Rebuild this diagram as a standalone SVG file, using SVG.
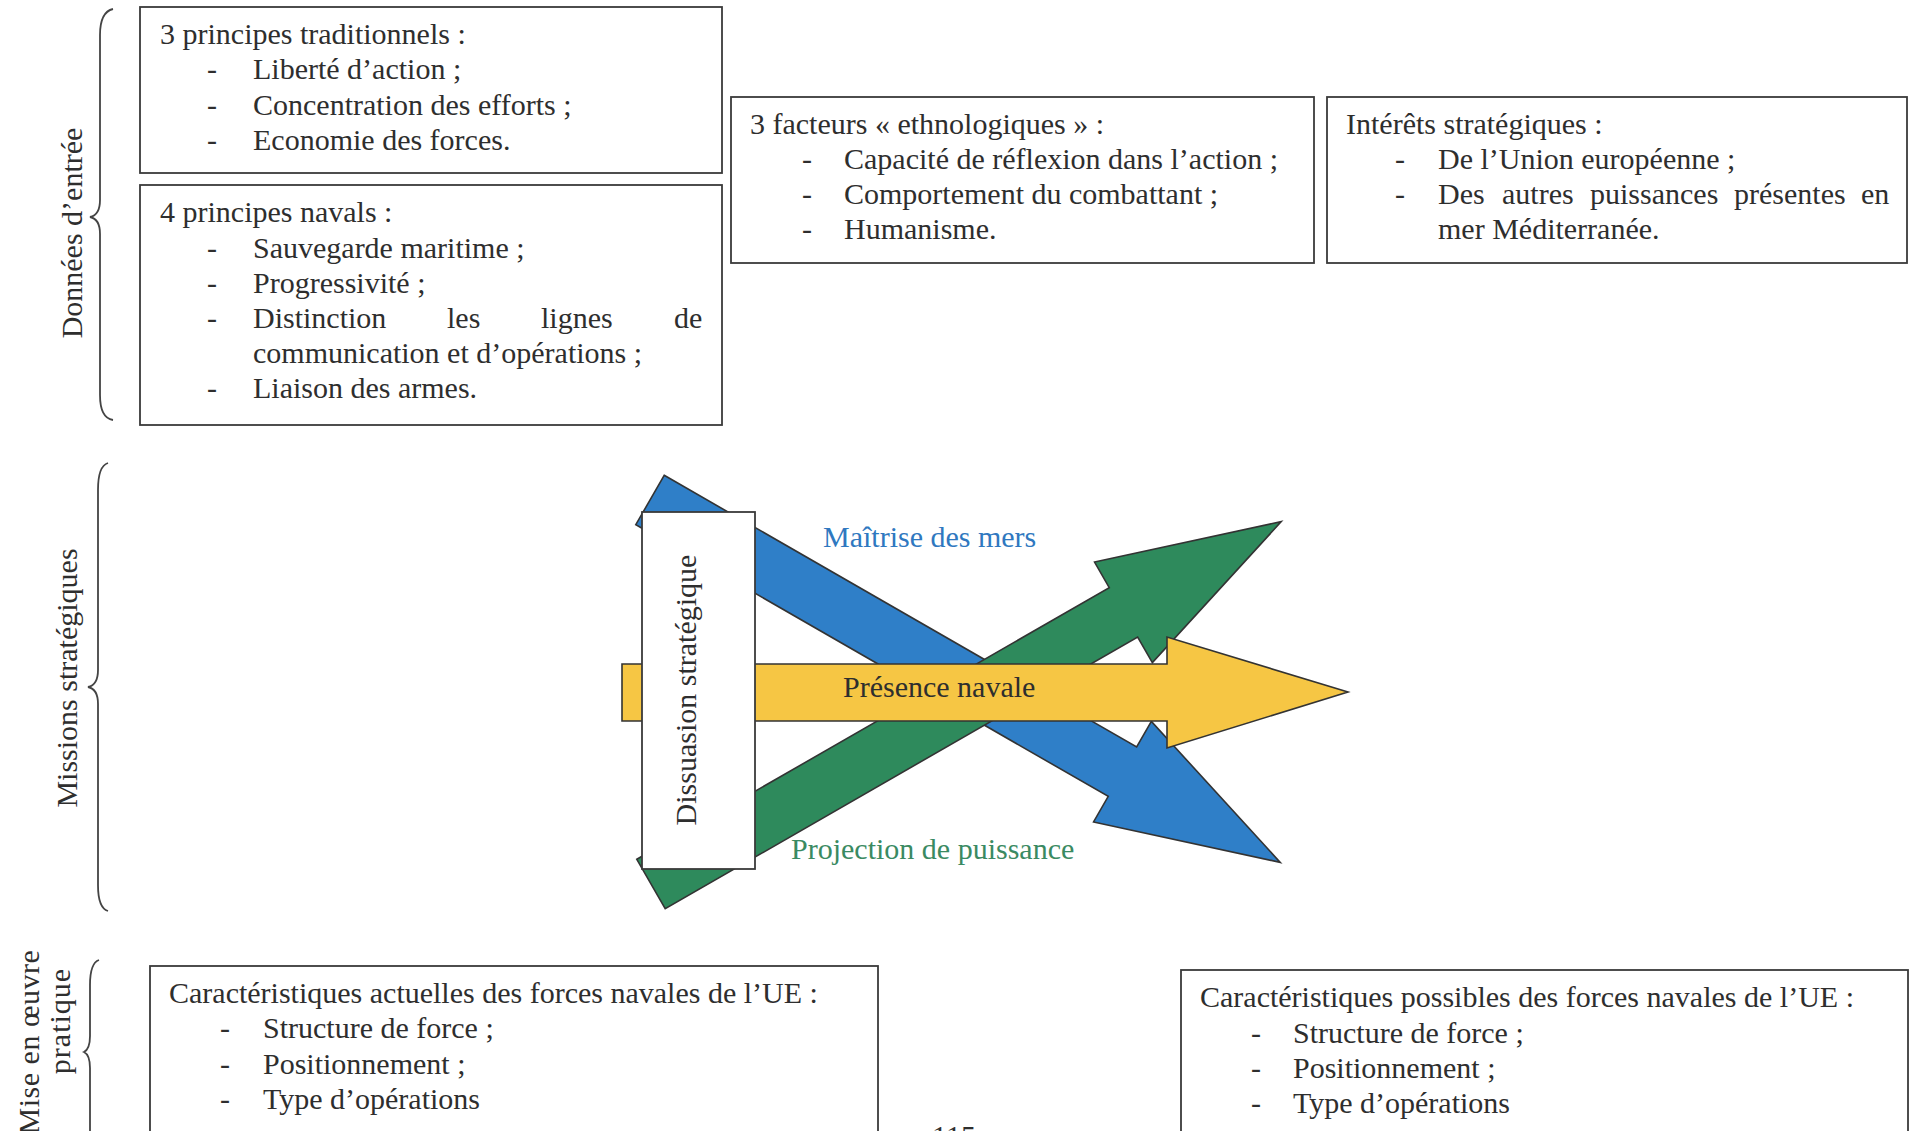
<svg xmlns="http://www.w3.org/2000/svg" width="1917" height="1131" viewBox="0 0 1917 1131">
<style>
text{font-family:"Liberation Serif","Times New Roman",serif;font-size:30px;fill:#2e2e2e}
.box{fill:#fff;stroke:#3a3a3a;stroke-width:1.8}
.brace{fill:none;stroke:#444;stroke-width:1.8}
.arr{stroke:#333;stroke-width:1.6;stroke-linejoin:miter}
.blue{fill:#2f7fc8}
.green{fill:#2e8a5c}
.yellow{fill:#f6c644}
</style>
<defs>
<path id="diag" d="M0,-28.5 L545,-28.5 L545,-58 L727,0 L545,58 L545,28.5 L0,28.5 Z"/>
</defs>
<rect width="1917" height="1131" fill="#fff"/>

<g id="brace-donnees">
<path class="brace" d="M113,9 Q100,12 100,35 L100,200 Q100,215 90,217 Q100,219 100,234 L100,395 Q100,418 113,420"/>
<text transform="translate(82,233) rotate(-90)" text-anchor="middle">Données d’entrée</text>
</g>
<g id="brace-missions">
<path class="brace" d="M108,463 Q98,466 98,490 L98,670 Q98,685 88,687 Q98,689 98,704 L98,885 Q98,908 108,911"/>
<text transform="translate(77,678) rotate(-90)" text-anchor="middle">Missions stratégiques</text>
</g>
<g id="brace-mise">
<path class="brace" d="M99,960 Q90,963 90,985 L90,1036 Q90,1049 84,1052 Q90,1055 90,1068 L90,1131"/>
<text transform="translate(39,1042) rotate(-90)" text-anchor="middle" letter-spacing="0.5">Mise en œuvre</text>
<text transform="translate(70,1021) rotate(-90)" text-anchor="middle" letter-spacing="1">pratique</text>
</g>

<g id="box-traditionnels">
<rect class="box" x="140" y="7" width="582" height="166"/>
<text x="160" y="44">3 principes traditionnels :</text>
<text x="207" y="79">-</text><text x="253" y="79">Liberté d’action ;</text>
<text x="207" y="115">-</text><text x="253" y="115">Concentration des efforts ;</text>
<text x="207" y="150">-</text><text x="253" y="150">Economie des forces.</text>
</g>

<g id="box-navals">
<rect class="box" x="140" y="185" width="582" height="240"/>
<text x="160" y="222">4 principes navals :</text>
<text x="207" y="258">-</text><text x="253" y="258">Sauvegarde maritime ;</text>
<text x="207" y="293">-</text><text x="253" y="293">Progressivité ;</text>
<text x="207" y="328">-</text><text x="253" y="328">Distinction</text><text x="447" y="328">les</text><text x="541" y="328">lignes</text><text x="674" y="328">de</text>
<text x="253" y="363">communication et d’opérations ;</text>
<text x="207" y="398">-</text><text x="253" y="398">Liaison des armes.</text>
</g>

<g id="box-ethnologiques">
<rect class="box" x="731" y="97" width="583" height="166"/>
<text x="750" y="134">3 facteurs « ethnologiques » :</text>
<text x="802" y="169">-</text><text x="844" y="169">Capacité de réflexion dans l’action ;</text>
<text x="802" y="204">-</text><text x="844" y="204">Comportement du combattant ;</text>
<text x="802" y="239">-</text><text x="844" y="239">Humanisme.</text>
</g>

<g id="box-interets">
<rect class="box" x="1327" y="97" width="580" height="166"/>
<text x="1346" y="134">Intérêts stratégiques :</text>
<text x="1395" y="169">-</text><text x="1438" y="169">De l’Union européenne ;</text>
<text x="1395" y="204">-</text><text x="1438" y="204">Des</text><text x="1502" y="204">autres</text><text x="1590" y="204">puissances</text><text x="1734" y="204">présentes</text><text x="1861" y="204">en</text>
<text x="1438" y="239">mer Méditerranée.</text>
</g>

<g id="arrows">
<use href="#diag" class="arr blue" transform="translate(650,500) rotate(29.9)"/>
<use href="#diag" class="arr green" transform="translate(651,884) rotate(-29.9)"/>
<path class="arr yellow" d="M622,664 L1167,664 L1167,637 L1348,692 L1167,748 L1167,721 L622,721 Z"/>
</g>

<g id="node-maitrise">
<text x="823" y="547" style="fill:#2f78c0">Maîtrise des mers</text>
</g>
<g id="node-projection">
<text x="791" y="859" style="fill:#3a8a62">Projection de puissance</text>
</g>
<g id="node-presence">
<text x="843" y="697">Présence navale</text>
</g>
<g id="node-dissuasion">
<rect class="box" x="642" y="512" width="113" height="357"/>
<text transform="translate(696,690) rotate(-90)" text-anchor="middle">Dissuasion stratégique</text>
</g>

<g id="box-actuelles">
<rect class="box" x="150" y="966" width="728" height="180"/>
<text x="169" y="1003">Caractéristiques actuelles des forces navales de l’UE :</text>
<text x="220" y="1038">-</text><text x="263" y="1038">Structure de force ;</text>
<text x="220" y="1074">-</text><text x="263" y="1074">Positionnement ;</text>
<text x="220" y="1109">-</text><text x="263" y="1109">Type d’opérations</text>
</g>

<g id="box-possibles">
<rect class="box" x="1181" y="970" width="727" height="180"/>
<text x="1200" y="1007">Caractéristiques possibles des forces navales de l’UE :</text>
<text x="1251" y="1043">-</text><text x="1293" y="1043">Structure de force ;</text>
<text x="1251" y="1078">-</text><text x="1293" y="1078">Positionnement ;</text>
<text x="1251" y="1113">-</text><text x="1293" y="1113">Type d’opérations</text>
</g>

<text x="932" y="1146">115</text>
</svg>
